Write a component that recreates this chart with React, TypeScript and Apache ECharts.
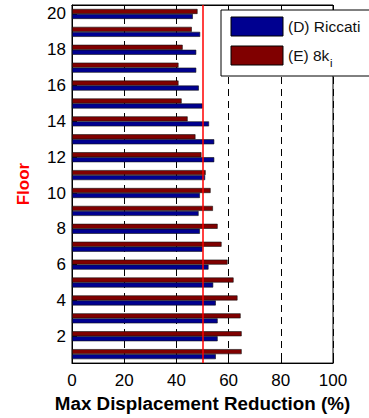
import React, { useEffect, useRef } from "react";
import * as echarts from "echarts";

const floors = ["1","2","3","4","5","6","7","8","9","10","11","12","13","14","15","16","17","18","19","20"];
const riccati = [55.1, 55.8, 55.8, 55.1, 54.1, 52.3, 50.0, 49.0, 48.5, 49.0, 51.0, 54.5, 54.5, 52.5, 50.0, 48.6, 47.6, 47.6, 49.1, 46.3];
const eightK = [65.0, 65.0, 64.6, 63.4, 61.9, 59.6, 57.3, 55.8, 54.0, 53.1, 51.2, 49.6, 47.3, 44.3, 42.0, 40.8, 40.8, 42.4, 45.9, 48.1];
const xTicks = [0, 20, 40, 60, 80, 100];
const threshold = 50;
const seriesNames = ["(D) Riccati", "(E) 8k"];
const subscript = "i";

const FONT = "Liberation Sans, Arial, Helvetica, sans-serif";
const BLUE = "#000090";
const RED = "#800000";

export default function App() {
  const ref = useRef<HTMLDivElement>(null);
  useEffect(() => {
    if (!ref.current) return;
    const chart = echarts.init(ref.current, null, { renderer: "svg" });
    const evenOnly = (i: number) => (i + 1) % 2 === 0;
    chart.setOption({
      animation: false,
      backgroundColor: "#fff",
      textStyle: { fontFamily: FONT },
      grid: { left: 72, right: 36, top: 5, bottom: 53, show: true, borderColor: "#000", borderWidth: 1 },
      xAxis: [
        {
          type: "value",
          min: xTicks[0],
          max: xTicks[xTicks.length - 1],
          interval: 20,
          position: "bottom",
          name: "Max Displacement Reduction (%)",
          nameLocation: "middle",
          nameGap: 27,
          nameTextStyle: { fontSize: 18.8, fontWeight: "bold", color: "#000", fontFamily: FONT },
          axisLine: { show: true, lineStyle: { color: "#000", width: 1 } },
          axisTick: { show: true, inside: true, length: 5, lineStyle: { color: "#000" } },
          axisLabel: { fontSize: 17, color: "#000", margin: 9, fontFamily: FONT },
          splitLine: { show: true, lineStyle: { color: "#000", width: 1, type: [7, 5] } },
        },
        {
          type: "value",
          min: xTicks[0],
          max: xTicks[xTicks.length - 1],
          interval: 20,
          position: "top",
          axisLine: { show: true, lineStyle: { color: "#000", width: 1 } },
          axisTick: { show: true, inside: true, length: 5, lineStyle: { color: "#000" } },
          axisLabel: { show: false },
          splitLine: { show: false },
        },
      ],
      yAxis: {
        type: "category",
        data: floors,
        name: "Floor",
        nameLocation: "middle",
        nameGap: 40,
        nameRotate: 90,
        nameTextStyle: { fontSize: 17, fontWeight: "bold", color: "#ff0000", fontFamily: FONT },
        axisLine: { show: true, lineStyle: { color: "#000", width: 1 } },
        axisTick: { show: true, inside: true, alignWithLabel: true, interval: evenOnly, length: 5, lineStyle: { color: "#000" } },
        axisLabel: { interval: evenOnly, fontSize: 17, color: "#000", margin: 6, fontFamily: FONT },
        splitLine: { show: false },
      },
      series: [
        {
          name: seriesNames[1],
          type: "bar",
          data: eightK,
          barWidth: 5,
          barGap: "0%",
          itemStyle: { color: RED, borderColor: "#111", borderWidth: 0.6 },
          markLine: {
            silent: true,
            symbol: "none",
            label: { show: false },
            lineStyle: { color: "#ff0000", width: 1.5, type: "solid" },
            data: [{ xAxis: threshold }],
          },
        },
        {
          name: seriesNames[0],
          type: "bar",
          data: riccati,
          barWidth: 5,
          barGap: "0%",
          itemStyle: { color: BLUE, borderColor: "#111", borderWidth: 0.6 },
        },
      ],
      graphic: [
        { type: "rect", id: "lgbox", z: 100, shape: { x: 221, y: 10, width: 170, height: 66 }, style: { fill: "#fff", stroke: "#000", lineWidth: 1 } },
        { type: "rect", id: "lgblue", z: 101, shape: { x: 231, y: 17, width: 52, height: 19 }, style: { fill: BLUE, stroke: "#000", lineWidth: 1 } },
        { type: "rect", id: "lgred", z: 101, shape: { x: 231, y: 46, width: 52, height: 19 }, style: { fill: RED, stroke: "#000", lineWidth: 1 } },
        { type: "text", id: "lgt1", z: 101, x: 288, y: 26.5, style: { text: seriesNames[0], fontSize: 15.5, fill: "#111", fontFamily: FONT, verticalAlign: "middle" } },
        { type: "text", id: "lgt2", z: 101, x: 288, y: 55.5, style: { text: seriesNames[1], fontSize: 15.5, fill: "#111", fontFamily: FONT, verticalAlign: "middle" } },
        { type: "text", id: "lgsub", z: 102, x: 330, y: 62.5, style: { text: subscript, fontSize: 11, fill: "#000", fontFamily: FONT, verticalAlign: "middle", align: "left" } },
      ],
    });
    return () => chart.dispose();
  }, []);
  return <div ref={ref} style={{ position: "fixed", left: 0, top: 0, width: 369, height: 418 }} />;
}
